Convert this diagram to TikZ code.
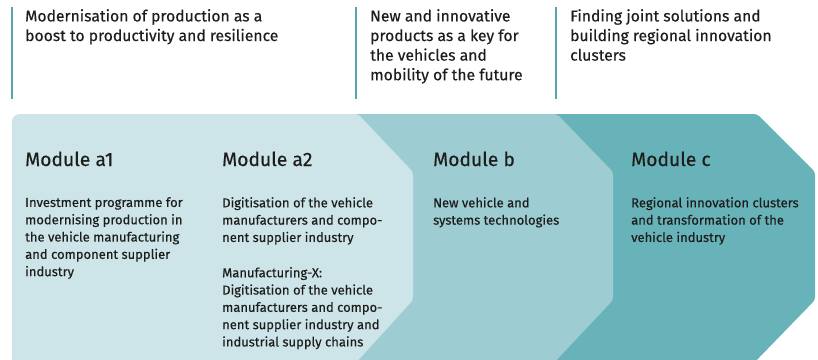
\documentclass[tikz,border=0pt]{standalone}
\usepackage{fontspec}
\setmainfont{Fira Sans}[FakeBold=0.35]
\usetikzlibrary{positioning}
\definecolor{mPale}{HTML}{CDE5E8}
\definecolor{mMid}{HTML}{9DCDD2}
\definecolor{mDeep}{HTML}{67B3B9}
\definecolor{mRule}{HTML}{52A7AE}
\definecolor{mInk}{HTML}{1D1D1B}

\tikzset{
  goal/.style={anchor=north west, inner sep=0pt, align=left, text=mInk,
    font=\fontsize{15.7}{19.6}\selectfont},
  modtitle/.style={anchor=base west, inner sep=0pt, text=mInk,
    font=\fontsize{19.3}{22}\selectfont},
  modtext/.style={anchor=north west, inner sep=0pt, align=left, text=mInk,
    font=\fontsize{13}{17.3}\selectfont},
  rule/.style={draw=mRule, line width=1.6pt},
  chevron/.style={rounded corners=3pt}
}

\begin{document}
\begin{tikzpicture}[x=1pt, y=-1pt]
  \useasboundingbox (0,0) rectangle (818,359);
  \clip (0,0) rectangle (818,359);

  % the three chevrons, back to front
  \fill[mDeep, chevron] (480,114) -- (757,114) -- (815,172) -- (815,300) -- (751,366) -- (480,366) -- cycle;
  \fill[mMid, chevron] (300,114) -- (557,114) -- (613,172) -- (613,300) -- (551,366) -- (300,366) -- cycle;
  \fill[mPale, chevron] (12,366) -- (12,122) [rounded corners=8pt] -- (12,114) [rounded corners=3pt] -- (358,114) -- (413,172) -- (413,300) -- (353,366) -- cycle;

  % goals above the modules
  \draw[rule] (12,7) -- (12,99);
  \draw[rule] (356,7) -- (356,99);
  \draw[rule] (556,7) -- (556,99);
  \node[goal] (goalA) at (25,9) {Modernisation of production as a\\boost to productivity and resilience};
  \node[goal] (goalB) at (370,9) {New and innovative\\products as a key for\\the vehicles and\\mobility of the future};
  \node[goal] (goalC) at (570,9) {Finding joint solutions and\\building regional innovation\\clusters};

  % module headings
  \node[modtitle] (a1) at (25,166) {Module a1};
  \node[modtitle] (a2) at (222,166) {Module a2};
  \node[modtitle] (b) at (433,166) {Module b};
  \node[modtitle] (c) at (631,166) {Module c};

  % module descriptions
  \node[modtext, below=31pt of a1.base west, anchor=north west] (a1txt) {Investment programme for\\modernising production in\\the vehicle manufacturing\\and component supplier\\industry};
  \node[modtext, below=31pt of a2.base west, anchor=north west] (a2txt) {Digitisation of the vehicle\\manufacturers and compo-\\nent supplier industry};
  \node[modtext, below=22pt of a2txt.south west, anchor=north west] (a2mx) {Manufacturing-X:\\Digitisation of the vehicle\\manufacturers and compo-\\nent supplier industry and\\industrial supply chains};
  \node[modtext, below=31pt of b.base west, anchor=north west] (btxt) {New vehicle and\\systems technologies};
  \node[modtext, below=31pt of c.base west, anchor=north west] (ctxt) {Regional innovation clusters\\and transformation of the\\vehicle industry};
\end{tikzpicture}
\end{document}
